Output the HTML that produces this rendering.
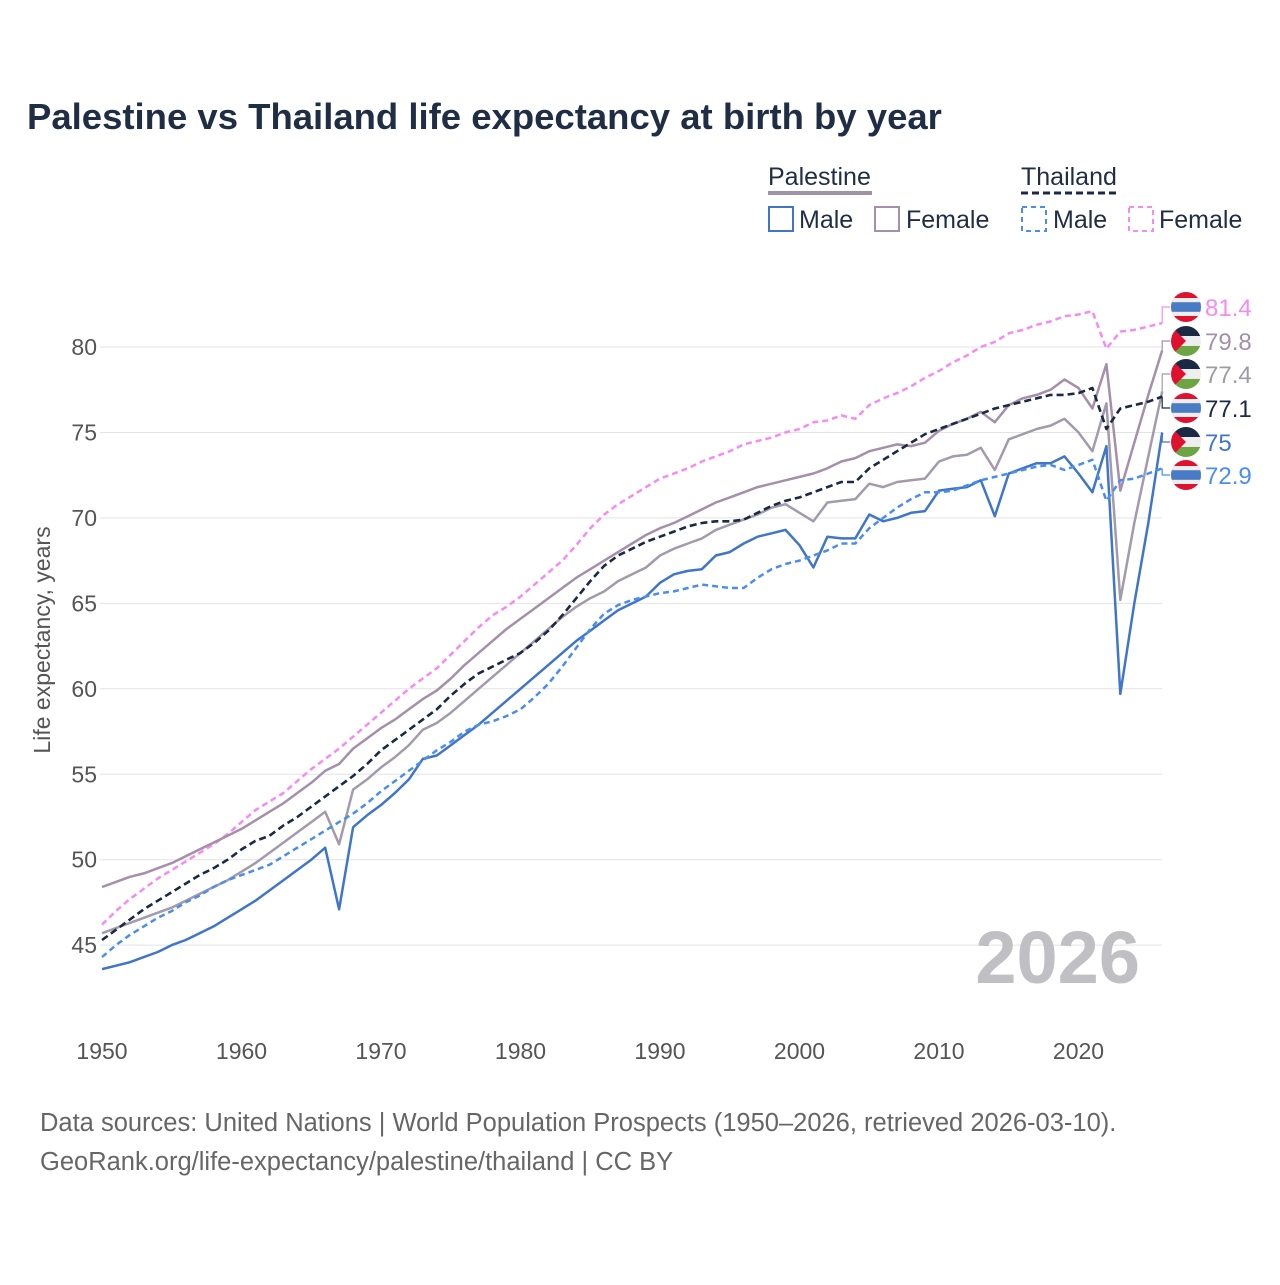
<!DOCTYPE html>
<html><head><meta charset="utf-8"><style>
body{margin:0;background:#fff;font-family:"Liberation Sans",sans-serif;}
</style></head><body>
<svg id="chart" width="1280" height="1280" xmlns="http://www.w3.org/2000/svg">
<rect width="1280" height="1280" fill="#fff"/>
<text x="27" y="129" font-size="36.5" font-weight="bold" fill="#1f2d45">Palestine vs Thailand life expectancy at birth by year</text>
<g font-size="25" fill="#1f2d45">
<text x="768" y="185">Palestine</text>
<line x1="768" y1="193" x2="872" y2="193" stroke="#9f93a8" stroke-width="4"/>
<text x="1021" y="185">Thailand</text>
<line x1="1021" y1="193" x2="1119" y2="193" stroke="#1b2a44" stroke-width="3" stroke-dasharray="7,4"/>
<g><rect x="769" y="207" width="24" height="24" fill="none" stroke="#3f76c8" stroke-width="2"/><text x="799" y="228">Male</text></g>
<g><rect x="875" y="207" width="24" height="24" fill="none" stroke="#a58fab" stroke-width="2"/><text x="906" y="228">Female</text></g>
<g><rect x="1022" y="207" width="24" height="24" fill="none" stroke="#4a8df0" stroke-width="2" stroke-dasharray="5,4"/><text x="1053" y="228">Male</text></g>
<g><rect x="1129" y="207" width="24" height="24" fill="none" stroke="#f78af0" stroke-width="2" stroke-dasharray="5,4"/><text x="1159" y="228">Female</text></g>
</g>
<g id="grid"></g>
<g id="lines"></g>
<g id="labels"></g>
<text x="1140" y="983" text-anchor="end" font-size="74" font-weight="bold" fill="#c0c0c4">2026</text>
<text x="50" y="640" transform="rotate(-90 50 640)" text-anchor="middle" font-size="23" fill="#555">Life expectancy, years</text>
<text x="40" y="1131" font-size="25.5" fill="#666">Data sources: United Nations | World Population Prospects (1950–2026, retrieved 2026-03-10).</text>
<text x="40" y="1170" font-size="25.5" fill="#666">GeoRank.org/life-expectancy/palestine/thailand | CC BY</text>
</svg>
<script>
const years=[];for(let y=1950;y<=2026;y++)years.push(y);
const yTicks=[45,50,55,60,65,70,75,80];
const xTicks=[1950,1960,1970,1980,1990,2000,2010,2020];
const palMale=[43.6,43.8,44.0,44.3,44.6,45.0,45.3,45.7,46.1,46.6,47.1,47.6,48.2,48.8,49.4,50.0,50.7,47.1,51.9,52.6,53.2,53.9,54.7,55.9,56.1,56.7,57.3,57.9,58.6,59.3,60.0,60.7,61.4,62.1,62.8,63.4,64.0,64.6,65.0,65.4,66.2,66.7,66.9,67.0,67.8,68.0,68.5,68.9,69.1,69.3,68.4,67.1,68.9,68.8,68.8,70.2,69.8,70.0,70.3,70.4,71.6,71.7,71.8,72.2,70.1,72.6,72.9,73.2,73.2,73.6,72.6,71.5,74.2,59.7,65.0,69.7,75.0];
const palFemale=[48.4,48.7,49.0,49.2,49.5,49.8,50.2,50.6,51.0,51.4,51.8,52.3,52.8,53.3,53.9,54.5,55.2,55.6,56.5,57.1,57.7,58.2,58.8,59.4,59.9,60.6,61.4,62.1,62.8,63.5,64.1,64.7,65.3,65.9,66.5,67.0,67.5,68.0,68.5,69.0,69.4,69.7,70.1,70.5,70.9,71.2,71.5,71.8,72.0,72.2,72.4,72.6,72.9,73.3,73.5,73.9,74.1,74.3,74.2,74.4,75.1,75.5,75.8,76.2,75.6,76.6,77.0,77.2,77.5,78.1,77.6,76.4,79.0,71.6,74.4,77.2,79.8];
const palTotal=[45.7,46.0,46.3,46.6,46.9,47.2,47.6,48.0,48.4,48.8,49.3,49.8,50.4,51.0,51.6,52.2,52.8,50.9,54.1,54.7,55.4,56.0,56.7,57.6,58.0,58.6,59.3,60.0,60.7,61.4,62.1,62.8,63.5,64.2,64.8,65.3,65.7,66.3,66.7,67.1,67.8,68.2,68.5,68.8,69.3,69.6,69.9,70.2,70.6,70.8,70.3,69.8,70.9,71.0,71.1,72.0,71.8,72.1,72.2,72.3,73.3,73.6,73.7,74.1,72.8,74.6,74.9,75.2,75.4,75.8,75.0,73.9,76.7,65.2,69.7,73.6,77.4];
const thaTotal=[45.3,45.9,46.5,47.1,47.6,48.1,48.6,49.1,49.5,50.0,50.6,51.1,51.4,52.0,52.5,53.1,53.7,54.3,54.9,55.6,56.4,57.0,57.6,58.2,58.8,59.6,60.3,60.9,61.3,61.7,62.1,62.7,63.4,64.3,65.3,66.3,67.2,67.8,68.2,68.6,68.9,69.2,69.5,69.7,69.8,69.8,69.9,70.3,70.7,71.0,71.2,71.5,71.8,72.1,72.1,72.9,73.4,73.9,74.4,74.9,75.2,75.5,75.8,76.1,76.4,76.6,76.8,77.0,77.2,77.2,77.3,77.6,75.2,76.4,76.6,76.8,77.1];
const thaFemale=[46.2,47.0,47.7,48.3,48.9,49.4,49.9,50.4,50.9,51.5,52.2,52.9,53.4,53.9,54.6,55.3,55.9,56.5,57.2,57.9,58.6,59.3,60.0,60.6,61.2,62.0,62.8,63.6,64.3,64.8,65.4,66.1,66.8,67.5,68.4,69.4,70.2,70.8,71.3,71.8,72.3,72.6,72.9,73.3,73.6,73.9,74.3,74.5,74.7,75.0,75.2,75.6,75.7,76.0,75.8,76.6,77.0,77.3,77.7,78.2,78.6,79.1,79.5,80.0,80.3,80.8,81.0,81.3,81.5,81.8,81.9,82.1,79.9,80.9,81.0,81.2,81.4];
const thaMale=[44.3,45.0,45.6,46.1,46.6,47.0,47.5,47.9,48.4,48.8,49.1,49.4,49.7,50.2,50.7,51.2,51.7,52.2,52.7,53.3,54.0,54.6,55.2,55.8,56.4,56.9,57.5,57.9,58.1,58.4,58.8,59.5,60.3,61.3,62.4,63.5,64.4,64.9,65.2,65.4,65.6,65.7,65.9,66.1,66.0,65.9,65.9,66.5,67.0,67.3,67.5,67.8,68.1,68.5,68.5,69.4,70.0,70.6,71.1,71.5,71.5,71.6,71.9,72.2,72.4,72.6,72.8,73.0,73.1,72.8,73.1,73.4,71.0,72.2,72.3,72.6,72.9];
const NS='http://www.w3.org/2000/svg';
const X=y=>102+(y-1950)*13.95;
const Y=v=>347+(80-v)*17.09;
function mk(tag,at,parent){const e=document.createElementNS(NS,tag);for(const k in at)e.setAttribute(k,at[k]);parent.appendChild(e);return e;}
const grid=document.getElementById('grid');
yTicks.forEach(t=>{
 const l=mk('line',{x1:100,x2:1162,y1:Y(t),y2:Y(t),stroke:'#e3e3e6','stroke-width':1},grid);
 
 
 const tx=mk('text',{x:97,y:Y(t)+8,'text-anchor':'end','font-size':23,fill:'#555'},grid);tx.textContent=t;
 
 
});
xTicks.forEach(t=>{
 const tx=mk('text',{x:X(t),y:1059,'text-anchor':'middle','font-size':23,fill:'#555'},grid);tx.textContent=t;
 
 
});
const series=[
 {n:'thailand-female',d:thaFemale,c:'#f78af0',dash:'6,4',w:2.5,ly:307,lc:'#f78af0',flag:'th'},
 {n:'palestine-female',d:palFemale,c:'#a58fab',dash:null,w:2.5,ly:341,lc:'#a58fab',flag:'ps'},
 {n:'palestine-total',d:palTotal,c:'#a39aab',dash:null,w:2.5,ly:374,lc:'#9c9ca2',flag:'ps'},
 {n:'thailand-total',d:thaTotal,c:'#1b2a44',dash:'7,4',w:2.6,ly:408,lc:'#1b2a44',flag:'th'},
 {n:'palestine-male',d:palMale,c:'#3f76c8',dash:null,w:2.5,ly:442,lc:'#3f76c8',flag:'ps'},
 {n:'thailand-male',d:thaMale,c:'#4a8df0',dash:'6,4',w:2.5,ly:475,lc:'#4a8df0',flag:'th'}
];
const lines=document.getElementById('lines'),labels=document.getElementById('labels');
series.forEach(s=>{
 const pts=s.d.map((v,i)=>X(years[i]).toFixed(1)+','+Y(v).toFixed(1)).join(' ');
 const at={points:pts,fill:'none',stroke:s.c,'stroke-width':s.w,'stroke-linejoin':'round'};
 if(s.dash)at['stroke-dasharray']=s.dash;
 const p=mk('polyline',at,lines);
 
 
 const last=s.d[s.d.length-1];const ex=X(2026),ey=Y(last);
 const c=mk('polyline',{points:`${ex},${ey} ${ex},${s.ly} ${ex+8},${s.ly}`,fill:'none',stroke:s.c,'stroke-width':1.2},labels);
 
 
 const g=mk('g',{},labels);
 
 
 const cx=1186,cy=s.ly,r=15;
 const cp='cp-'+s.n;const def=mk('clipPath',{id:cp},g);mk('circle',{cx,cy,r},def);
 const gg=mk('g',{'clip-path':`url(#${cp})`},g);
 if(s.flag==='th'){
  mk('rect',{x:cx-r,y:cy-r,width:2*r,height:2*r,fill:'#e0102f'},gg);
  mk('rect',{x:cx-r,y:cy-r*0.6,width:2*r,height:r*1.2,fill:'#eee'},gg);
  mk('rect',{x:cx-r,y:cy-r*0.32,width:2*r,height:r*0.64,fill:'#4a7cc6'},gg);
 }else{
  mk('rect',{x:cx-r,y:cy-r,width:2*r,height:r*0.67,fill:'#1b2a44'},gg);
  mk('rect',{x:cx-r,y:cy-r*0.33,width:2*r,height:r*0.67,fill:'#eee'},gg);
  mk('rect',{x:cx-r,y:cy+r*0.33,width:2*r,height:r*0.67,fill:'#6da544'},gg);
  mk('polygon',{points:`${cx-r},${cy-r} ${cx},${cy} ${cx-r},${cy+r}`,fill:'#e0102f'},gg);
 }
 const t=mk('text',{x:1205,y:s.ly+9,'font-size':24,fill:s.lc},labels);t.textContent=last;
 
 
});
</script>
</body></html>
